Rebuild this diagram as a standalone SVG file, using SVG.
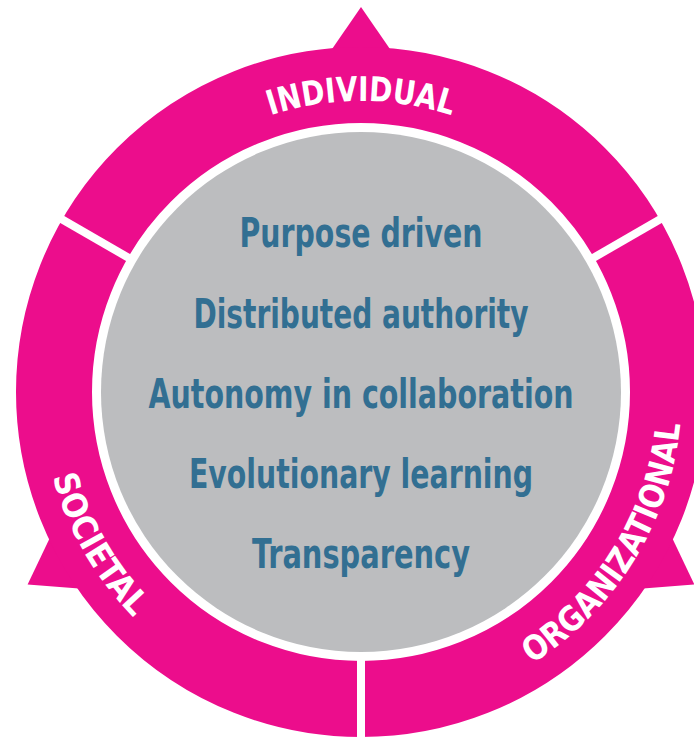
<svg xmlns="http://www.w3.org/2000/svg" width="694" height="739" viewBox="0 0 694 739">
  <style>
    .pink { fill: #EC0D8C; }
    .ring { fill: none; stroke: #EC0D8C; stroke-width: 76; }
    .divider { stroke: #FFFFFF; stroke-width: 8; }
    .ringlabel { font-family: "Liberation Sans Narrow", "DejaVu Sans Condensed", "Liberation Sans", sans-serif; font-weight: bold; font-size: 34px; fill: #FFFFFF; }
    .item { font-family: "Liberation Sans Narrow", "DejaVu Sans Condensed", "Liberation Sans", sans-serif; font-weight: bold; font-size: 41px; fill: #326F92; text-anchor: middle; }
  </style>
  <defs>
    <path id="arcTop" d="M 70 392 A 291 291 0 0 1 652 392"/>
    <path id="arcLeft" d="M 83.9 232 A 321 321 0 0 0 361 713"/>
    <path id="arcRight" d="M 361 713 A 321 321 0 0 0 639 231.5"/>
  </defs>
  <rect width="694" height="739" fill="#FFFFFF"/>
  <g id="ring">
    <polygon class="pink" points="361,7 330,52 392,52"/>
    <polygon class="pink" points="27.6,584.5 51.1,535.2 82.1,588.8"/>
    <polygon class="pink" points="694.4,584.5 639.9,588.8 670.9,535.2"/>
    <circle class="ring" cx="361" cy="392" r="307"/>
    <line class="divider" x1="587.9" y1="261" x2="665.8" y2="216"/>
    <line class="divider" x1="134.1" y1="261" x2="56.2" y2="216"/>
    <line class="divider" x1="361" y1="654" x2="361" y2="744"/>
  </g>
  <g id="individual">
    <text class="ringlabel" text-anchor="middle"><textPath href="#arcTop" startOffset="50%" textLength="184" lengthAdjust="spacingAndGlyphs">INDIVIDUAL</textPath></text>
  </g>
  <g id="societal">
    <text class="ringlabel" text-anchor="middle"><textPath href="#arcLeft" startOffset="50%" textLength="164" lengthAdjust="spacingAndGlyphs">SOCIETAL</textPath></text>
  </g>
  <g id="organizational">
    <text class="ringlabel" text-anchor="middle"><textPath href="#arcRight" startOffset="48.5%" textLength="292" lengthAdjust="spacingAndGlyphs">ORGANIZATIONAL</textPath></text>
  </g>
  <g id="center">
    <circle cx="361" cy="392" r="260" fill="#BCBDBF"/>
    <text class="item" x="361" y="247" textLength="243" lengthAdjust="spacingAndGlyphs">Purpose driven</text>
    <text class="item" x="361" y="328" textLength="335" lengthAdjust="spacingAndGlyphs">Distributed authority</text>
    <text class="item" x="361" y="408" textLength="425" lengthAdjust="spacingAndGlyphs">Autonomy in collaboration</text>
    <text class="item" x="361" y="488" textLength="344" lengthAdjust="spacingAndGlyphs">Evolutionary learning</text>
    <text class="item" x="361" y="568" textLength="218" lengthAdjust="spacingAndGlyphs">Transparency</text>
  </g>
</svg>
